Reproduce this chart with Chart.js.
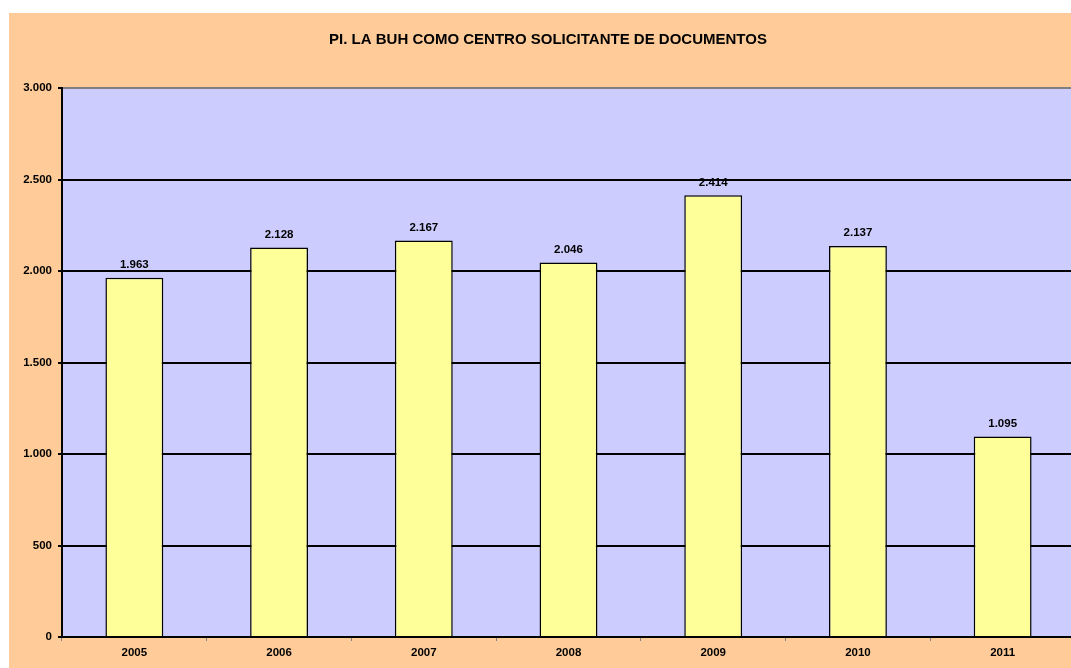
<!DOCTYPE html>
<html lang="es">
<head>
    <meta charset="UTF-8">
    <title>PI. LA BUH COMO CENTRO SOLICITANTE DE DOCUMENTOS</title>
    <script src="https://cdn.jsdelivr.net/npm/chart.js"></script>
    <style>
        body {
            margin: 0;
            background: #ffffff;
            overflow: hidden;
        }
        #wrap {
            position: absolute;
            left: 9px;
            top: 13px;
            width: 1066px;
            height: 655px;
        }
    </style>
</head>
<body>
    <div id="wrap"><canvas id="chart"></canvas></div>

    <script>
        const years = ['2005', '2006', '2007', '2008', '2009', '2010', '2011'];
        const solicitudes = [1963, 2128, 2167, 2046, 2414, 2137, 1095];
        const yTicks = [0, 500, 1000, 1500, 2000, 2500, 3000];
        const chartTitle = 'PI. LA BUH COMO CENTRO SOLICITANTE DE DOCUMENTOS';

        const fontFamily = 'Arial, "Liberation Sans", sans-serif';

        // punto como separador de miles
        function fmt(v) {
            return String(v).replace(/\B(?=(\d{3})+(?!\d))/g, '.');
        }

        const fondoPlugin = {
            id: 'fondo',
            beforeDraw(chart) {
                const { ctx, chartArea: a } = chart;
                ctx.save();
                ctx.fillStyle = '#FFCC99';
                ctx.fillRect(0, 0, chart.width, chart.height);
                ctx.fillStyle = '#CCCCFF';
                ctx.fillRect(a.left, a.top, a.right - a.left, a.bottom - a.top);
                // titulo
                ctx.fillStyle = '#000';
                ctx.font = 'bold 15px ' + fontFamily;
                ctx.textAlign = 'center';
                ctx.textBaseline = 'middle';
                ctx.fillText(chartTitle, 539, 27);
                ctx.restore();
            }
        };

        const etiquetasPlugin = {
            id: 'etiquetas',
            afterDatasetsDraw(chart) {
                const { ctx } = chart;
                const meta = chart.getDatasetMeta(0);
                ctx.save();
                ctx.fillStyle = '#000';
                ctx.font = 'bold 11.5px ' + fontFamily;
                ctx.textAlign = 'center';
                ctx.textBaseline = 'bottom';
                meta.data.forEach((bar, i) => {
                    ctx.fillText(fmt(solicitudes[i]), bar.x, bar.y - 7);
                });
                ctx.restore();
            }
        };

        new Chart(document.getElementById('chart'), {
            type: 'bar',
            data: {
                labels: years,
                datasets: [{
                    data: solicitudes,
                    backgroundColor: '#FFFF99',
                    borderColor: '#000000',
                    borderWidth: 1.5,
                    categoryPercentage: 1,
                    barPercentage: 0.4
                }]
            },
            options: {
                responsive: true,
                maintainAspectRatio: false,
                animation: false,
                layout: { padding: { top: 75, right: 0, left: 0, bottom: 0 } },
                plugins: {
                    legend: { display: false },
                    title: { display: false },
                    tooltip: { enabled: false }
                },
                scales: {
                    x: {
                        offset: true,
                        grid: {
                            offset: true,
                            drawOnChartArea: false,
                            drawTicks: true,
                            tickLength: 4,
                            color: '#808080'
                        },
                        border: { color: '#000000', width: 2 },
                        ticks: {
                            color: '#000',
                            font: { family: fontFamily, size: 11.5, weight: 'bold' },
                            padding: 5
                        },
                        afterFit(scale) { scale.height = 31; }
                    },
                    y: {
                        min: 0,
                        max: 3000,
                        afterBuildTicks(scale) {
                            scale.ticks = yTicks.map(v => ({ value: v }));
                        },
                        grid: {
                            color: ctx => ctx.tick && ctx.tick.value === 3000 ? '#808080' : '#000000',
                            lineWidth: 2,
                            tickLength: 4,
                            tickColor: '#000000'
                        },
                        border: { color: '#000000', width: 2 },
                        ticks: {
                            color: '#000',
                            font: { family: fontFamily, size: 11.5, weight: 'bold' },
                            padding: 6,
                            callback: v => fmt(v)
                        },
                        afterFit(scale) { scale.width = 53; }
                    }
                }
            },
            plugins: [fondoPlugin, etiquetasPlugin]
        });
    </script>
</body>
</html>
